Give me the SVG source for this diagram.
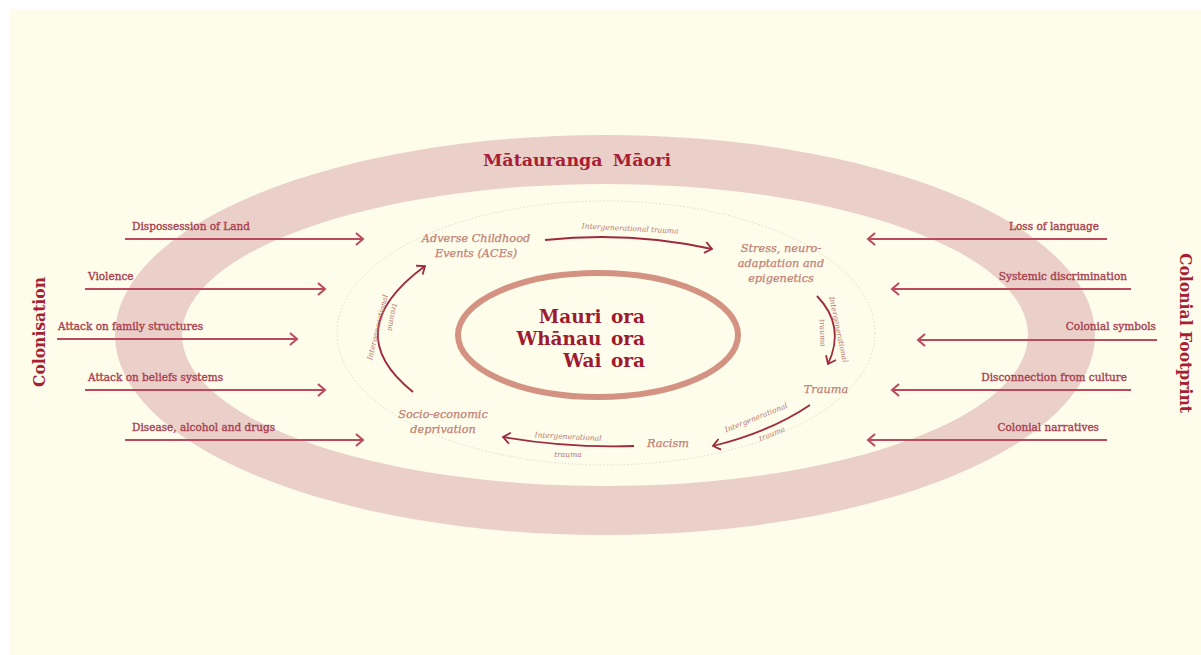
<svg xmlns="http://www.w3.org/2000/svg" width="1201" height="655" viewBox="0 0 1201 655">
<style>
.title{font-family:"DejaVu Serif","Liberation Serif",serif;font-weight:bold;fill:#A81E34}
.center{font-family:"DejaVu Serif","Liberation Serif",serif;font-weight:bold;fill:#9E1A30;font-size:18.5px;text-anchor:end;word-spacing:3px}
.lbl{font-family:"DejaVu Serif","Liberation Serif",serif;font-size:10.5px;fill:#A8404F;stroke:#A8404F;stroke-width:0.35}
.node{font-family:"DejaVu Serif","Liberation Serif",serif;font-style:italic;font-size:11.3px;fill:#BF8276;stroke:#BF8276;stroke-width:0.25;text-anchor:middle}
.small{font-family:"DejaVu Serif","Liberation Serif",serif;font-style:italic;font-size:7.5px;fill:#B87A72;text-anchor:middle}
.arr{fill:none;stroke:#BB4A5C;stroke-width:2}
.cyc{fill:none;stroke:#9E2A3C;stroke-width:1.8}
</style>
<defs>
<marker id="head" markerUnits="userSpaceOnUse" markerWidth="12" markerHeight="14" refX="9" refY="7" orient="auto">
<path d="M2,1 L9,7 L2,13" fill="none" stroke="#BB4A5C" stroke-width="2"/>
</marker>
<marker id="chead" markerUnits="userSpaceOnUse" markerWidth="12" markerHeight="14" refX="9" refY="7" orient="auto">
<path d="M2,1.5 L9,7 L2,12.5" fill="none" stroke="#9E2A3C" stroke-width="1.8"/>
</marker>
</defs>
<rect x="9" y="9" width="1192" height="646" fill="#FEFCEA"/>
<g id="band">
<path d="M115,335 a490,200 0 1,0 980,0 a490,200 0 1,0 -980,0 Z M182,335 a423,151 0 1,0 846,0 a423,151 0 1,0 -846,0 Z" fill="#EBD0C9" fill-rule="evenodd"/>
<text class="title" x="577" y="166" font-size="17.5" text-anchor="middle" word-spacing="4">Mātauranga Māori</text>
</g>
<g id="dotted-ring">
<ellipse cx="606" cy="333" rx="269" ry="132" fill="none" stroke="#E2DCCB" stroke-width="1" stroke-dasharray="1.5,2"/>
</g>
<g id="colonisation">
<text class="title" font-size="16" text-anchor="middle" transform="translate(45,332) rotate(-90)" textLength="110" lengthAdjust="spacingAndGlyphs">Colonisation</text>
</g>
<g id="colonial-footprint">
<text class="title" font-size="16" text-anchor="middle" transform="translate(1180,333) rotate(90)" textLength="160" lengthAdjust="spacingAndGlyphs">Colonial Footprint</text>
</g>
<g id="connectors">
<line class="arr" x1="125" y1="239" x2="363" y2="239" marker-end="url(#head)"/>
<line class="arr" x1="85" y1="289" x2="325" y2="289" marker-end="url(#head)"/>
<line class="arr" x1="57" y1="339" x2="297" y2="339" marker-end="url(#head)"/>
<line class="arr" x1="85" y1="390" x2="325" y2="390" marker-end="url(#head)"/>
<line class="arr" x1="125" y1="440" x2="363" y2="440" marker-end="url(#head)"/>
<line class="arr" x1="1107" y1="239" x2="868" y2="239" marker-end="url(#head)"/>
<line class="arr" x1="1131" y1="289" x2="892" y2="289" marker-end="url(#head)"/>
<line class="arr" x1="1157" y1="340" x2="918" y2="340" marker-end="url(#head)"/>
<line class="arr" x1="1131" y1="390" x2="892" y2="390" marker-end="url(#head)"/>
<line class="arr" x1="1107" y1="440" x2="868" y2="440" marker-end="url(#head)"/>
<path class="cyc" d="M545,240 Q630,231 712,249" marker-end="url(#chead)"/>
<path class="cyc" d="M817,296 Q846,326 828,364" marker-end="url(#chead)"/>
<path class="cyc" d="M810,405 Q770,432 713,446" marker-end="url(#chead)"/>
<path class="cyc" d="M634,446 Q565,448 503,437" marker-end="url(#chead)"/>
<path class="cyc" d="M413,392 Q337,331 425,266" marker-end="url(#chead)"/>
<text class="small" transform="translate(630,231) rotate(3)">Intergenerational trauma</text>
<text class="small" transform="translate(836,330) rotate(78)">Intergenerational</text>
<text class="small" transform="translate(820,333) rotate(88)">trauma</text>
<text class="small" transform="translate(757,420) rotate(-22)">Intergenerational</text>
<text class="small" transform="translate(773,436) rotate(-22)">trauma</text>
<text class="small" transform="translate(568,439) rotate(3)">Intergenerational</text>
<text class="small" x="568" y="457">trauma</text>
<text class="small" transform="translate(380,328) rotate(-76)">Intergenerational</text>
<text class="small" transform="translate(390,317) rotate(100)">trauma</text>
</g>
<g id="left-labels">
<text class="lbl" x="132" y="230">Dispossession of Land</text>
<text class="lbl" x="88" y="280">Violence</text>
<text class="lbl" x="58" y="330">Attack on family structures</text>
<text class="lbl" x="88" y="381">Attack on beliefs systems</text>
<text class="lbl" x="132" y="431">Disease, alcohol and drugs</text>
</g>
<g id="right-labels">
<text class="lbl" x="1099" y="230" text-anchor="end">Loss of language</text>
<text class="lbl" x="1127" y="280" text-anchor="end">Systemic discrimination</text>
<text class="lbl" x="1156" y="330" text-anchor="end">Colonial symbols</text>
<text class="lbl" x="1127" y="381" text-anchor="end">Disconnection from culture</text>
<text class="lbl" x="1099" y="431" text-anchor="end">Colonial narratives</text>
</g>
<g id="core">
<ellipse cx="598" cy="335" rx="140" ry="62" fill="none" stroke="#D39282" stroke-width="6"/>
<text class="center" x="645" y="323">Mauri ora</text>
<text class="center" x="645" y="345">Whānau ora</text>
<text class="center" x="645" y="367">Wai ora</text>
</g>
<g id="node-aces">
<text class="node" x="476" y="242">Adverse Childhood</text>
<text class="node" x="476" y="257">Events (ACEs)</text>
</g>
<g id="node-stress">
<text class="node" x="781" y="252">Stress, neuro-</text>
<text class="node" x="781" y="267">adaptation and</text>
<text class="node" x="781" y="282">epigenetics</text>
</g>
<g id="node-trauma">
<text class="node" x="826" y="393">Trauma</text>
</g>
<g id="node-racism">
<text class="node" x="668" y="447">Racism</text>
</g>
<g id="node-socio">
<text class="node" x="443" y="418">Socio-economic</text>
<text class="node" x="443" y="433">deprivation</text>
</g>
</svg>
